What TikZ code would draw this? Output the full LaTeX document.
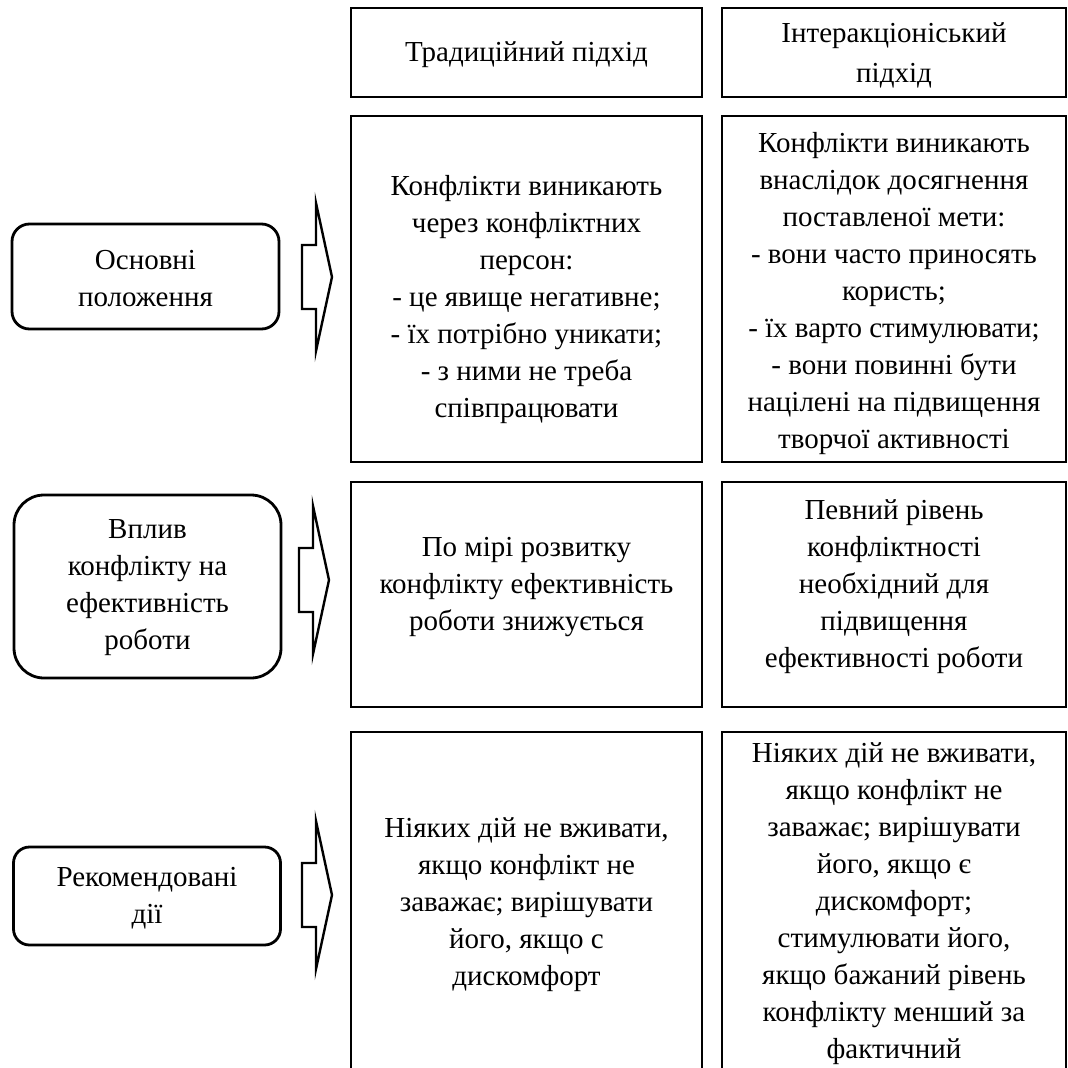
\documentclass[tikz,border=0pt]{standalone}
\usepackage{fontspec}
\setmainfont{Liberation Serif}
\begin{document}
\begin{tikzpicture}[x=1pt,y=-1pt,
  box/.style={draw, line width=2.8pt, inner sep=0pt},
  lbox/.style={draw, line width=2.8pt, inner sep=0pt, minimum width=267pt},
  txt/.style={align=center, font=\fontsize{29}{37}\selectfont, inner sep=0pt},
  barrow/.style={draw, line width=2.4pt, line join=miter}]
\useasboundingbox (0,0) rectangle (1068,1068);
\clip (0,0) rectangle (1068,1068);
% header
\node[box, minimum width=351pt, minimum height=89pt] (h1) at (526.5,52.5) {};
\node[box, minimum width=344pt, minimum height=89pt] (h2) at (894,52.5) {};
\node[txt] (th1) at (526.5,55) {Традиційний підхід};
\node[txt, font=\fontsize{29}{40}\selectfont] (th2) at (894,55) {Інтеракціоніський\\підхід};
% rows
\node[box, minimum width=351pt, minimum height=346pt] (r1a) at (526.5,289) {};
\node[box, minimum width=344pt, minimum height=346pt] (r1b) at (894,289) {};
\node[box, minimum width=351pt, minimum height=225pt] (r2a) at (526.5,594.5) {};
\node[box, minimum width=344pt, minimum height=225pt] (r2b) at (894,594.5) {};
\node[box, minimum width=351pt, minimum height=363pt] (r3a) at (526.5,913.5) {};
\node[box, minimum width=344pt, minimum height=363pt] (r3b) at (894,913.5) {};
% texts
\node[txt] (t1a) at (526.5,300) {Конфлікти виникають\\через конфліктних\\персон:\\- це явище негативне;\\- їх потрібно уникати;\\- з ними не треба\\співпрацювати};
\node[txt] (t1b) at (894,294) {Конфлікти виникають\\внаслідок досягнення\\поставленої мети:\\- вони часто приносять\\користь;\\- їх варто стимулювати;\\- вони повинні бути\\націлені на підвищення\\творчої активності};
\node[txt] (t2a) at (526.5,587) {По мірі розвитку\\конфлікту ефективність\\роботи знижується};
\node[txt] (t2b) at (894,587) {Певний рівень\\конфліктності\\необхідний для\\підвищення\\ефективності роботи};
\node[txt] (t3a) at (526.5,905) {Ніяких дій не вживати,\\якщо конфлікт не\\заважає; вирішувати\\його, якщо с\\дискомфорт};
\node[txt] (t3b) at (894,904) {Ніяких дій не вживати,\\якщо конфлікт не\\заважає; вирішувати\\його, якщо є\\дискомфорт;\\стимулювати його,\\якщо бажаний рівень\\конфлікту менший за\\фактичний};
% left rounded boxes
\node[lbox, rounded corners=17.5pt, minimum height=105pt] (l1) at (145.5,276.5) {};
\node[lbox, rounded corners=30pt, minimum height=183pt] (l2) at (147.5,586.5) {};
\node[lbox, rounded corners=16pt, minimum height=98pt] (l3) at (147,896) {};
\node[txt] (tl1) at (145.5,279) {Основні\\положення};
\node[txt] (tl2) at (147.5,588) {Вплив\\конфлікту на\\ефективність\\роботи};
\node[txt] (tl3) at (147,898) {Рекомендовані\\дії};
% block arrows
\coordinate (a1) at (316,277);
\coordinate (a2) at (313,580);
\coordinate (a3) at (316,895);
\foreach \a in {a1,a2,a3}{
  \draw[barrow, shift={(\a)}] (-14,-32) -- (0,-32) -- (0,-74) -- (16,0) -- (0,74) -- (0,32) -- (-14,32) -- cycle;
}
\end{tikzpicture}
\end{document}
